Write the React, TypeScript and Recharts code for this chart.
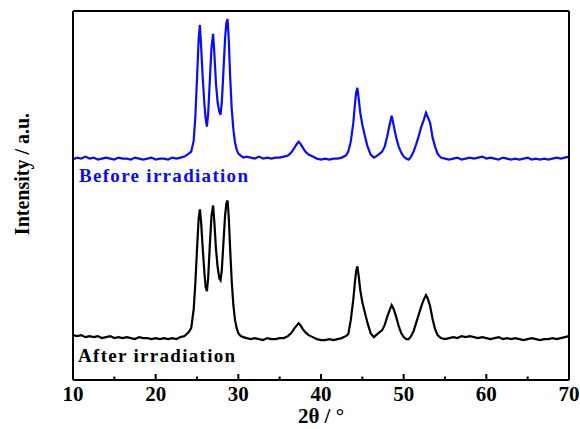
import React from 'react';
import { LineChart, Line, XAxis, YAxis } from 'recharts';

// 2θ grid (degrees)
const twoTheta = [
  10, 10.5, 11, 11.5, 12, 12.5, 13, 13.5, 14, 14.5, 15, 15.5, 16, 16.5, 17, 17.5, 18, 18.5, 19, 19.5, 20, 20.5, 21, 21.5, 22, 22.5, 23, 23.5, 24,
  24.3, 24.6, 24.8, 25.0, 25.2, 25.35, 25.5, 25.7, 25.9, 26.05, 26.2, 26.35, 26.55, 26.75, 26.95, 27.1, 27.3, 27.5, 27.7, 27.85,
  28.0, 28.2, 28.4, 28.55, 28.7, 28.85, 29.0, 29.2, 29.4, 29.6, 29.8, 30.0, 30.3, 30.6, 31.0,
  31.5, 32, 32.5, 33, 33.5, 34, 34.5, 35, 35.5, 36, 36.4, 36.8, 37.1, 37.3, 37.5, 37.8, 38.1, 38.5, 39, 39.5, 40, 40.5, 41, 41.5, 42, 42.5, 43,
  43.3, 43.6, 43.9, 44.1, 44.25, 44.4, 44.55, 44.75, 45.0, 45.3, 45.6, 46.0, 46.4, 46.8, 47.1, 47.4, 47.7, 48.0, 48.3, 48.55,
  48.8, 49.1, 49.4, 49.7, 50.0, 50.3, 50.6, 50.9, 51.2, 51.5, 51.8, 52.1, 52.4, 52.7, 52.9, 53.2, 53.5, 53.8, 54.1, 54.5,
  55, 55.5, 56, 56.5, 57, 57.5, 58, 58.5, 59, 59.5, 60, 60.5, 61, 61.5, 62, 62.5, 63, 63.5, 64, 64.5, 65, 65.5, 66, 66.5, 67, 67.5, 68, 68.5, 69, 69.5, 70,
];

// intensity above own baseline (a.u.)
const beforeIrr = [
  1, 3, 2, 4, 2, 3, 1, 2, 3, 2, 1, 3, 2, 2, 1, 3, 2, 1, 2, 3, 1, 2, 2, 1, 3, 2, 3, 4, 7,
  9, 20, 44, 82, 122, 136, 114, 82, 56, 42, 34, 47, 80, 113, 127, 107, 77, 58, 49, 46,
  58, 90, 123, 138, 142, 120, 86, 52, 31, 18, 11, 7, 5, 3, 4,
  3, 2, 4, 2, 3, 2, 3, 3, 4, 5, 8, 13, 17, 19, 17, 13, 9, 6, 4, 2, 1, 2, 1, 2, 2, 3, 5,
  9, 19, 37, 56, 68, 73, 63, 48, 36, 25, 15, 6, 3, 5, 7, 9, 14, 24, 36, 45,
  35, 23, 14, 8, 4, 2, 1, 4, 9, 16, 24, 33, 40, 48, 44, 38, 23, 14, 7, 3,
  2, 1, 2, 3, 1, 2, 3, 2, 3, 4, 2, 3, 2, 1, 3, 2, 1, 2, 1, 2, 3, 1, 2, 1, 2, 1, 2, 3, 2, 3, 4,
];

const afterIrr = [
  6, 5, 6, 4, 5, 4, 5, 3, 4, 5, 3, 4, 3, 4, 3, 2, 4, 3, 3, 2, 3, 2, 3, 2, 3, 2, 4, 5, 9,
  13, 32, 58, 92, 123, 132, 119, 92, 68, 54, 50, 63, 96, 125, 136, 119, 92, 74, 63, 61,
  71, 99, 126, 138, 141, 123, 94, 60, 36, 21, 13, 8, 5, 4, 3,
  2, 3, 2, 1, 3, 2, 2, 3, 3, 5, 8, 13, 16, 18, 16, 12, 9, 6, 4, 2, 1, 1, 2, 1, 2, 3, 5,
  7, 21, 41, 59, 70, 75, 66, 51, 39, 29, 19, 8, 4, 7, 9, 11, 16, 24, 31, 36,
  32, 24, 15, 8, 4, 2, 2, 5, 10, 18, 26, 34, 41, 46, 43, 35, 22, 12, 6, 3,
  2, 3, 4, 3, 5, 4, 5, 4, 3, 4, 3, 2, 3, 4, 2, 3, 2, 3, 2, 1, 2, 3, 2, 1, 2, 2, 3, 2, 3, 4, 5,
];

const xTicks = [10, 15, 20, 25, 30, 35, 40, 45, 50, 55, 60, 65, 70];
const beforeOffset = 220;
const afterOffset = 39;

const data = twoTheta.map((t, i) => ({
  t,
  before: beforeIrr[i] + beforeOffset,
  after: afterIrr[i] + afterOffset,
}));

const FONT = '"Liberation Serif", "Times New Roman", serif';

const XTick = (props: any) => {
  const { x, y, payload } = props;
  const major = payload.value % 10 === 0;
  return (
    <g>
      <line x1={x} y1={y} x2={x} y2={y - (major ? 6 : 3.5)} stroke="#000" strokeWidth={2} />
      {major && (
        <text x={x} y={y + 21} textAnchor="middle" fontFamily={FONT} fontWeight="bold" fontSize={21} fill="#000">
          {payload.value}
        </text>
      )}
    </g>
  );
};

export default function App() {
  return (
    <div style={{ position: 'absolute', left: 0, top: 0, width: 580, height: 429, background: '#fff' }}>
      <LineChart width={580} height={429} data={data} margin={{ top: 10, right: 10, left: 72, bottom: 0 }}>
        <XAxis
          dataKey="t"
          type="number"
          domain={[10, 70]}
          ticks={xTicks}
          tickSize={0}
          tickMargin={0}
          tickLine={false}
          tick={<XTick />}
          height={49}
          axisLine={{ stroke: '#000', strokeWidth: 2 }}
          interval={0}
        />
        <XAxis xAxisId="top" orientation="top" dataKey="t" type="number" domain={[10, 70]} height={1} tick={false} tickLine={false} axisLine={{ stroke: '#000', strokeWidth: 2 }} />
        <YAxis domain={[0, 370]} width={1} tick={false} tickLine={false} axisLine={{ stroke: '#000', strokeWidth: 2 }} />
        <YAxis yAxisId="right" orientation="right" domain={[0, 370]} width={1} tick={false} tickLine={false} axisLine={{ stroke: '#000', strokeWidth: 2 }} />
        <Line dataKey="before" stroke="#0a0aff" strokeWidth={2.2} dot={false} isAnimationActive={false} type="linear" />
        <Line dataKey="after" stroke="#000" strokeWidth={2.2} dot={false} isAnimationActive={false} type="linear" />
        <text x={29} y={174} transform="rotate(-90 29 174)" textAnchor="middle" fontFamily={FONT} fontWeight="bold" fontSize={20} fill="#000">
          Intensity / a.u.
        </text>
        <text x={321} y={423} textAnchor="middle" fontFamily={FONT} fontWeight="bold" fontSize={21} fill="#000">
          2θ / °
        </text>
        <text x={79} y={182} fontFamily={FONT} fontWeight="bold" fontSize={19} letterSpacing={1.3} fill="#0a0aff">
          Before irradiation
        </text>
        <text x={78} y={362} fontFamily={FONT} fontWeight="bold" fontSize={19} letterSpacing={1.3} fill="#000">
          After irradiation
        </text>
      </LineChart>
    </div>
  );
}
